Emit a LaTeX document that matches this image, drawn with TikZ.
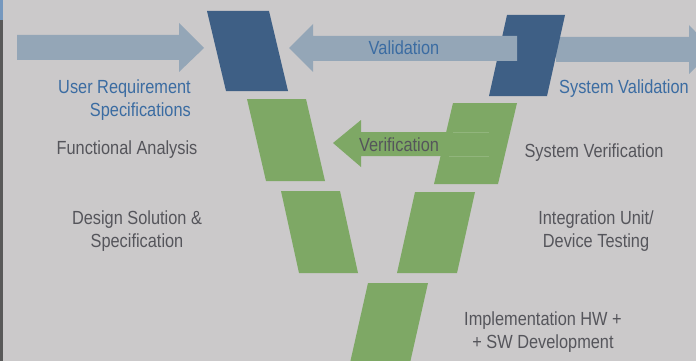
\documentclass[tikz,border=0pt]{standalone}
\usepackage{fontspec}
\setmainfont{Liberation Sans}[FakeStretch=0.86]
\usepackage{tikz}
\usetikzlibrary{positioning}

\definecolor{bgray}{HTML}{CBC9CA}
\definecolor{lblue}{HTML}{94A6B7}
\definecolor{dblue}{HTML}{3E5F85}
\definecolor{vgreen}{HTML}{7EA865}
\definecolor{tblue}{HTML}{3B6CA2}
\definecolor{tgray}{HTML}{55555B}

\begin{document}
\begin{tikzpicture}[x=1pt, y=-1pt,
  lbl/.style={inner sep=0pt, align=center, font=\fontsize{19}{23}\selectfont, text=tgray},
  bluelbl/.style={lbl, text=tblue}]

\useasboundingbox (0, 0) rectangle (696, 361);
\fill[bgray] (0, 0) rectangle (696, 361);
\fill[black!65] (0, 0) rectangle (2.5, 361);
\fill[tblue!70] (0, 0) rectangle (2.5, 20);

% arrow behind the right block
\fill[lblue] (556, 37) -- (689, 37) -- (689, 25) -- (713, 50) -- (689, 74) -- (689, 62) -- (556, 62) -- cycle;

% blocks of the V: x, y, width, height, slant, colour
\foreach \x/\y/\w/\h/\s/\c in {207/11/62/80/19/dblue, 247/99/59/82/19/vgreen, 281/191/59/82/18/vgreen,
  507/15/58/81/-18/dblue, 453/103/64/81/-19/vgreen, 415/192/60/81/-18/vgreen} {
\fill[\c] (\x, \y) -- ++(\w, 0) -- ++(\s, \h) -- ++(-\w, 0) -- cycle;
}
\fill[vgreen] (368, 283) -- ++(60, 0) -- ++(-27, 120) -- ++(-60, 0) -- cycle;

% block arrows
\fill[lblue] (17, 35) -- (179, 35) -- (179, 23) -- (204, 48) -- (179, 72) -- (179, 60) -- (17, 60) -- cycle;
\fill[lblue] (517, 36) -- (313, 36) -- (313, 24) -- (289, 48) -- (313, 72) -- (313, 61) -- (517, 61) -- cycle;
\fill[vgreen] (489, 132) -- (361, 132) -- (361, 120) -- (333, 143) -- (361, 167) -- (361, 156) -- (489, 156) -- cycle;
\draw[vgreen!85!white, line width=0.4pt] (453, 132) -- (489, 132) (449, 156) -- (489, 156);

% labels
\node[bluelbl, align=right, anchor=east] (usr) at (191, 100) {User Requirement\\Specifications};
\node[lbl] (fun) at (127, 150) {Functional Analysis};
\node[lbl] (des) at (137, 231) {Design Solution \&\\Specification};
\node[bluelbl] (val) at (404, 48) {Validation};
\node[lbl] (ver) at (399, 145) {Verification};
\node[bluelbl] (sval) at (624, 89) {System Validation};
\node[lbl] (sver) at (594, 153) {System Verification};
\node[lbl] (itg) at (596, 231) {Integration Unit/\\Device Testing};
\node[lbl] (imp) at (543, 332) {Implementation HW +\\+ SW Development};

\end{tikzpicture}
\end{document}
